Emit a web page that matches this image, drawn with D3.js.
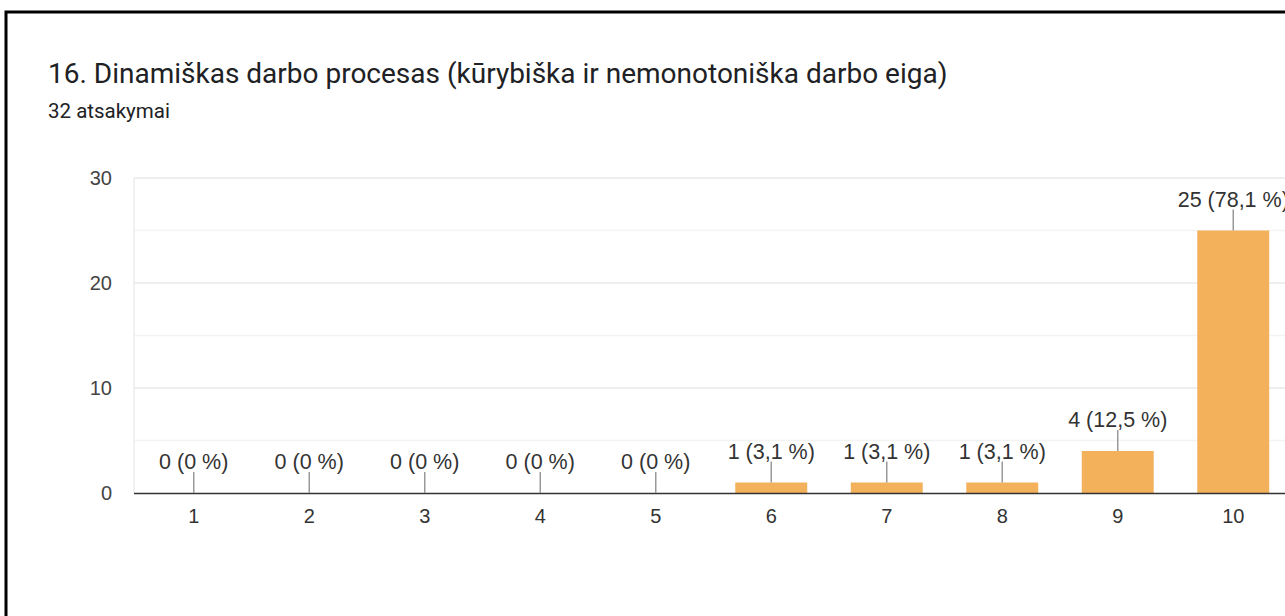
<!DOCTYPE html>
<html>
<head>
<meta charset="utf-8">
<script src="https://cdn.jsdelivr.net/npm/d3@7"></script>
<style>
  body { margin: 0; background: #fff; }
  svg { display: block; }
</style>
</head>
<body>
<script>
const categories = ["1", "2", "3", "4", "5", "6", "7", "8", "9", "10"];
const counts = [0, 0, 0, 0, 0, 1, 1, 1, 4, 25];
const percents = ["0 %", "0 %", "0 %", "0 %", "0 %", "3,1 %", "3,1 %", "3,1 %", "12,5 %", "78,1 %"];
const yTicks = [0, 10, 20, 30];
const yMinor = [5, 15, 25];

const title = "16. Dinamiškas darbo procesas (kūrybiška ir nemonotoniška darbo eiga)";
const subtitle = "32 atsakymai";

const W = 1285, H = 616;
const svg = d3.select("body").append("svg")
  .attr("width", W).attr("height", H);

// frame
svg.append("rect")
  .attr("x", 6).attr("y", 12)
  .attr("width", 1400).attr("height", 800)
  .attr("fill", "none")
  .attr("stroke", "#000")
  .attr("stroke-width", 3);

svg.append("text")
  .attr("x", 48).attr("y", 83)
  .attr("font-family", "Roboto, sans-serif")
  .attr("font-size", 28)
  .attr("fill", "#202124")
  .text(title);

svg.append("text")
  .attr("x", 48).attr("y", 118)
  .attr("font-family", "Roboto, sans-serif")
  .attr("font-size", 20.5)
  .attr("fill", "#202124")
  .text(subtitle);

const x = d3.scaleBand()
  .domain(categories)
  .range([136, 136 + 115.5 * 10])
  .paddingInner(0.377)
  .paddingOuter(0.377 / 2);

const y = d3.scaleLinear()
  .domain([0, 30])
  .range([493, 178]);

const font = "'Liberation Sans', Arial, sans-serif";

// grid
svg.append("g").selectAll("line.minor")
  .data(yMinor).enter().append("line")
  .attr("x1", 134).attr("x2", W)
  .attr("y1", d => y(d)).attr("y2", d => y(d))
  .attr("stroke", "#f3f3f3").attr("stroke-width", 1.5);

svg.append("g").selectAll("line.major")
  .data(yTicks.filter(d => d > 0)).enter().append("line")
  .attr("x1", 134).attr("x2", W)
  .attr("y1", d => y(d)).attr("y2", d => y(d))
  .attr("stroke", "#e8e8e8").attr("stroke-width", 1.5);

svg.append("line")
  .attr("x1", 134).attr("x2", 134)
  .attr("y1", y(30)).attr("y2", y(0))
  .attr("stroke", "#ececec").attr("stroke-width", 1.5);

// y labels
const yAxis = d3.axisLeft(y).tickValues(yTicks).tickSize(0).tickPadding(22);
const ya = svg.append("g").attr("transform", "translate(134,0)").call(yAxis);
ya.select(".domain").remove();
ya.selectAll("text")
  .attr("font-family", font).attr("font-size", 20).attr("fill", "#444");

// bars
svg.append("g").selectAll("rect")
  .data(counts).enter().append("rect")
  .attr("x", (d, i) => x(categories[i]))
  .attr("y", d => y(d))
  .attr("width", x.bandwidth())
  .attr("height", d => y(0) - y(d))
  .attr("fill", "#f4b15c");

// baseline
svg.append("line")
  .attr("x1", 134).attr("x2", W)
  .attr("y1", y(0) + 0.5).attr("y2", y(0) + 0.5)
  .attr("stroke", "#333").attr("stroke-width", 1.5);

// x labels
const xAxis = d3.axisBottom(x).tickSize(0).tickPadding(16);
const xa = svg.append("g").attr("transform", `translate(0,${y(0)})`).call(xAxis);
xa.select(".domain").remove();
xa.selectAll("text")
  .attr("font-family", font).attr("font-size", 20).attr("fill", "#333");

// value labels
const lab = svg.append("g");
counts.forEach((c, i) => {
  const cx = x(categories[i]) + x.bandwidth() / 2;
  lab.append("line")
    .attr("x1", cx).attr("x2", cx)
    .attr("y1", y(c)).attr("y2", y(c) - 21)
    .attr("stroke", "#999").attr("stroke-width", 1.5);
  lab.append("text")
    .attr("x", cx).attr("y", y(c) - 24)
    .attr("text-anchor", "middle")
    .attr("font-family", font).attr("font-size", 21.5)
    .attr("fill", "#333")
    .text(`${c} (${percents[i]})`);
});
</script>
</body>
</html>
